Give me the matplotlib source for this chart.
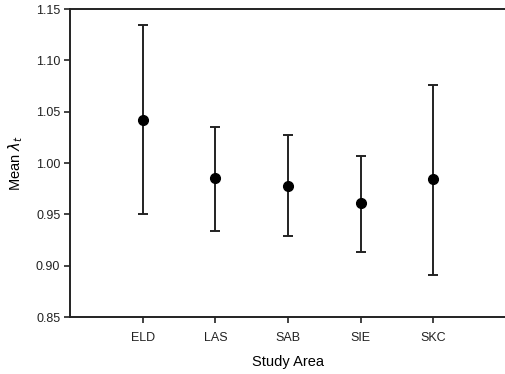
import matplotlib
matplotlib.use("Agg")
import matplotlib.pyplot as plt

areas = ["ELD", "LAS", "SAB", "SIE", "SKC"]
means = [1.042, 0.985, 0.978, 0.961, 0.984]
upper = [1.134, 1.035, 1.027, 1.007, 1.076]
lower = [0.950, 0.934, 0.929, 0.913, 0.891]
yticks = [0.85, 0.90, 0.95, 1.00, 1.05, 1.10, 1.15]

plt.rcParams['font.family'] = ['Liberation Sans', 'DejaVu Sans']

fig = plt.figure(figsize=(5.06, 3.74), dpi=100)
ax = fig.add_axes([70/506, 57/374, 436/506, 308/374])

x = list(range(1, len(areas) + 1))
err_lo = [m - l for m, l in zip(means, lower)]
err_hi = [u - m for m, u in zip(means, upper)]
ax.errorbar(x, means, yerr=[err_lo, err_hi], fmt='o', color='black',
            ecolor='#222222', elinewidth=1.4, capsize=3.8, capthick=1.4,
            markersize=7)

ax.set_xlim(0, 6)
ax.set_ylim(0.85, 1.15)
ax.set_xticks(x)
ax.set_xticklabels(areas, fontsize=9)
ax.set_yticks(yticks)
ax.set_yticklabels([f"{v:.2f}" for v in yticks], fontsize=9)
ax.tick_params(axis='both', direction='out', length=4, width=1.2, colors='#222222')
ax.tick_params(axis='x', pad=7)
ax.tick_params(axis='y', pad=3)
ax.spines['right'].set_visible(False)
for s in ['left', 'top', 'bottom']:
    ax.spines[s].set_linewidth(1.4)
    ax.spines[s].set_color('#222222')

ax.set_xlabel("Study Area", fontsize=10.5, labelpad=8)
ax.set_ylabel(r"Mean $\lambda_t$", fontsize=10.5, labelpad=8)

fig.savefig("out.png", dpi=100)
